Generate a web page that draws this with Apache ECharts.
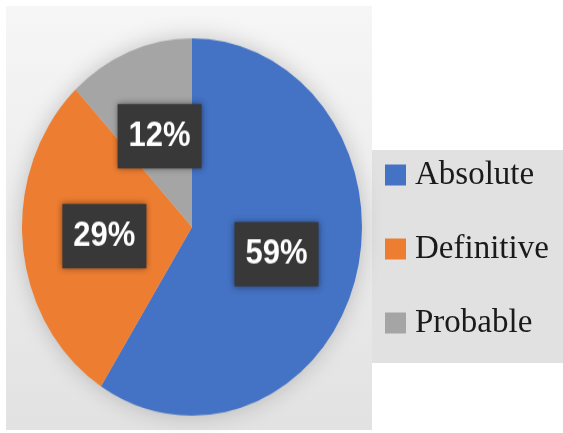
<!DOCTYPE html>
<html>
<head>
<meta charset="utf-8">
<script src="https://cdn.jsdelivr.net/npm/echarts@6/dist/echarts.min.js"></script>
<style>
  html, body { margin: 0; padding: 0; background: #ffffff; }
  #wrap { position: relative; width: 563px; height: 433px; overflow: hidden; }
  #base, #pie { position: absolute; left: 0; top: 0; width: 563px; height: 433px; }
  /* the pie is drawn slightly taller than wide */
  #pie { transform: scaleY(1.11); transform-origin: 192px 227px; }
</style>
</head>
<body>
<div id="wrap">
  <div id="base"></div>
  <div id="pie"></div>
</div>
<script>
// Share of cases by certainty level
const categories = ['Absolute', 'Definitive', 'Probable'];
const shares = [59, 29, 12];
const colors = ['#4472C4', '#ED7D31', '#A5A5A5'];

const pieData = categories.map((name, i) => ({ name: name, value: shares[i] }));

// Background panels and legend
const base = echarts.init(document.getElementById('base'), null, { renderer: 'canvas' });
base.setOption({
  backgroundColor: '#ffffff',
  animation: false,
  color: colors,
  graphic: [
    {
      type: 'rect', z: -10, silent: true,
      shape: { x: 6, y: 6, width: 366, height: 424 },
      style: {
        fill: new echarts.graphic.LinearGradient(0, 0, 0, 1, [
          { offset: 0, color: '#f6f6f6' },
          { offset: 1, color: '#e2e2e2' }
        ])
      }
    },
    {
      type: 'rect', z: -10, silent: true,
      shape: { x: 372, y: 150, width: 191, height: 213 },
      style: { fill: '#e1e1e1' }
    }
  ],
  legend: {
    orient: 'vertical',
    left: 380,
    top: 153,
    itemWidth: 21,
    itemHeight: 21,
    itemGap: 40,
    icon: 'rect',
    selectedMode: false,
    textStyle: {
      fontFamily: 'Liberation Serif',
      fontSize: 33,
      lineHeight: 34,
      color: '#1a1a1a',
      padding: [0, 0, 0, 4]
    },
    data: categories
  },
  series: [{
    type: 'pie',
    silent: true,
    radius: [0, 0],
    center: [192, 227],
    label: { show: false },
    labelLine: { show: false },
    data: pieData
  }]
});

// The pie itself
const pie = echarts.init(document.getElementById('pie'), null, { renderer: 'canvas' });
pie.setOption({
  backgroundColor: 'transparent',
  animation: false,
  color: colors,
  graphic: [{
    type: 'circle', z: -5, silent: true,
    shape: { cx: 192, cy: 227, r: 169 },
    style: { fill: '#d8d8d8', shadowBlur: 22, shadowColor: 'rgba(0,0,0,0.22)' }
  }],
  series: [{
    type: 'pie',
    center: [192, 227],
    radius: 170,
    startAngle: 90,
    clockwise: true,
    avoidLabelOverlap: false,
    silent: true,
    label: {
      show: true,
      position: 'inside',
      formatter: '{c}%',
      color: '#ffffff',
      fontFamily: 'Liberation Sans',
      fontWeight: 'bold',
      fontSize: 31,
      lineHeight: 32,
      backgroundColor: '#383838',
      padding: [13, 11, 13, 11],
      shadowBlur: 6,
      shadowColor: 'rgba(0,0,0,0.45)'
    },
    labelLine: { show: false },
    data: pieData
  }]
});
</script>
</body>
</html>
